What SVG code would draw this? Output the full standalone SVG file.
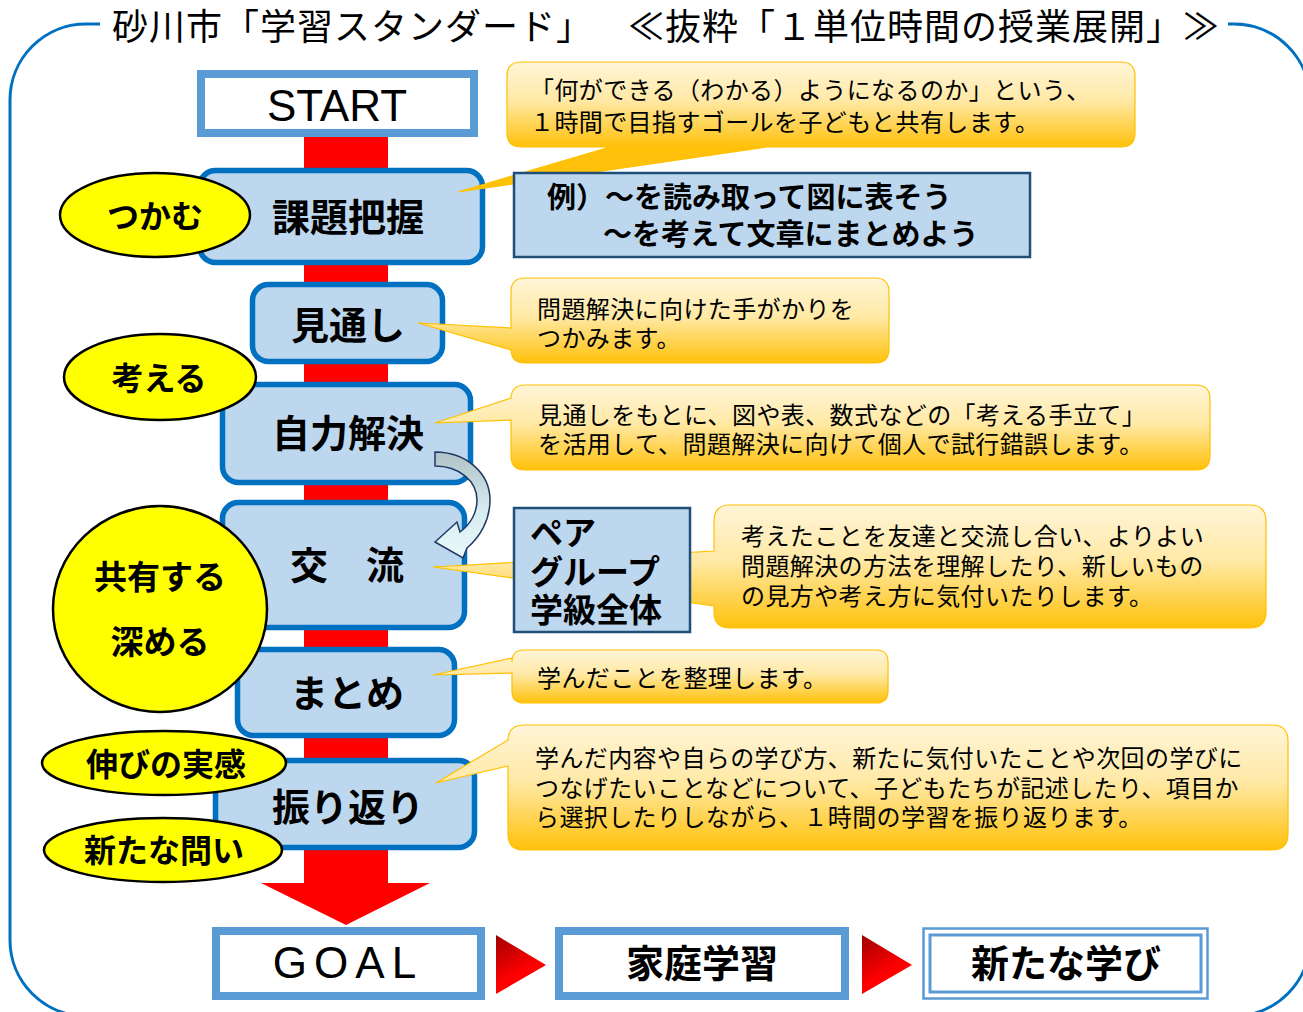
<svg xmlns="http://www.w3.org/2000/svg" width="1303" height="1012" viewBox="0 0 1303 1012">
<style>
text{font-family:"Noto Sans CJK JP","Noto Sans",sans-serif;fill:#000}
.title{font-size:36px;letter-spacing:1px}
.node rect{fill:#BDD7EE;stroke:#0070C0;stroke-width:5.5}
.lbl{font-size:38px;font-weight:700;text-anchor:middle}
.oval{fill:#FFFF00;stroke:#000;stroke-width:2.5}
.ol{font-size:32px;font-weight:700;text-anchor:middle}
.call{stroke:#FFC000;stroke-width:1.2}
.ct{font-size:24px;letter-spacing:0.4px}
.ex{fill:#BDD7EE;stroke:#1F4E79;stroke-width:2.5}
.ext{font-size:29px;font-weight:700}
.term{fill:#FFFFFF;stroke:#5B9BD5;stroke-width:8}
.tt{font-size:38px;font-weight:700;text-anchor:middle}
.lat{font-family:"Liberation Sans",Arial,sans-serif;font-size:44px;text-anchor:middle}
</style>
<defs>
<linearGradient id="cg" x1="0" y1="0" x2="0" y2="1">
<stop offset="0" stop-color="#FFF5D8"/>
<stop offset="0.45" stop-color="#FFE9A6"/>
<stop offset="1" stop-color="#FFC10A"/>
</linearGradient>
<linearGradient id="cg1" gradientUnits="userSpaceOnUse" x1="0" y1="62" x2="0" y2="147">
<stop offset="0" stop-color="#FFF5D8"/>
<stop offset="0.45" stop-color="#FFE9A6"/>
<stop offset="1" stop-color="#FFC10A"/>
</linearGradient>
<linearGradient id="rg" x1="0" y1="0" x2="0.5" y2="1">
<stop offset="0" stop-color="#A00000"/>
<stop offset="0.7" stop-color="#FF0000"/>
</linearGradient>
<linearGradient id="ag" x1="0" y1="0" x2="0" y2="1">
<stop offset="0" stop-color="#AFC2C6"/>
<stop offset="0.55" stop-color="#D6ECF0"/>
<stop offset="1" stop-color="#EAF9FC"/>
</linearGradient>
</defs>

<!-- frame -->
<rect x="10" y="24" width="1300" height="992" rx="76" fill="none" stroke="#0070C0" stroke-width="3"/>
<rect x="100" y="4" width="1128" height="44" fill="#FFFFFF"/>
<text class="title" x="112" y="40">砂川市「学習スタンダード」</text>
<text class="title" x="1220" y="40" text-anchor="end">≪抜粋「１単位時間の授業展開」≫</text>

<!-- connectors -->
<g id="connectors">
<path d="M304,137 H388 V883 H430 L346,925 L261,883 H304 Z" fill="#FF0000"/>
<polygon points="496,935 546,965 496,994" fill="url(#rg)"/>
<polygon points="862,935 912,965 862,994" fill="url(#rg)"/>
</g>

<g id="start"><rect class="term" x="201" y="74" width="273" height="59"/><text class="lat" x="337" y="121">START</text></g>

<g id="kadai" class="node"><rect x="199.5" y="170.5" width="283" height="92" rx="16"/><text class="lbl" x="348" y="231">課題把握</text></g>
<g id="mitoshi" class="node"><rect x="252.5" y="284.5" width="190" height="77" rx="16"/><text class="lbl" x="348" y="339">見通し</text></g>
<g id="jiriki" class="node"><rect x="222.5" y="384.5" width="248" height="98" rx="16"/><text class="lbl" x="348" y="447">自力解決</text></g>
<g id="koryu" class="node"><rect x="222.5" y="502.5" width="242" height="125" rx="16"/><text class="lbl" x="347" y="579">交　流</text></g>
<g id="matome" class="node"><rect x="237.5" y="649.5" width="217" height="86" rx="16"/><text class="lbl" x="347" y="707">まとめ</text></g>
<g id="furikaeri" class="node"><rect x="215.5" y="760.5" width="259" height="87" rx="16"/><text class="lbl" x="348" y="821">振り返り</text></g>

<!-- callouts -->
<g id="call1">
<path class="call" fill="url(#cg1)" d="M521,62 H1121 Q1135,62 1135,76 V133 Q1135,147 1121,147 H767 L458,192 L610,147 H521 Q507,147 507,133 V76 Q507,62 521,62 Z"/>
<text class="ct" x="530" y="99">「何ができる（わかる）ようになるのか」という、</text>
<text class="ct" x="530" y="131">１時間で目指すゴールを子どもと共有します。</text>
</g>
<g id="example"><rect class="ex" x="514" y="173" width="516" height="84"/>
<text class="ext" x="547" y="208">例）～を読み取って図に表そう</text>
<text class="ext" x="603" y="245">～を考えて文章にまとめよう</text></g>

<g id="call2">
<path class="call" fill="url(#cg)" d="M525,278 H875 Q889,278 889,292 V349 Q889,363 875,363 H525 Q511,363 511,349 V350 L418,323 L511,328 V292 Q511,278 525,278 Z"/>
<text class="ct" x="537" y="318">問題解決に向けた手がかりを</text>
<text class="ct" x="537" y="347">つかみます。</text>
</g>
<g id="call3">
<path class="call" fill="url(#cg)" d="M525,385 H1196 Q1210,385 1210,399 V456 Q1210,470 1196,470 H525 Q511,470 511,456 V420 L435,423 L511,398 V399 Q511,385 525,385 Z"/>
<text class="ct" x="538" y="424">見通しをもとに、図や表、数式などの「考える手立て」</text>
<text class="ct" x="538" y="453">を活用して、問題解決に向けて個人で試行錯誤します。</text>
</g>
<g id="call4">
<path class="call" fill="url(#cg)" d="M730,505 H1250 Q1266,505 1266,521 V612 Q1266,628 1250,628 H730 Q714,628 714,612 V606 L433,567 L714,551 V521 Q714,505 730,505 Z"/>
<text class="ct" x="741" y="545">考えたことを友達と交流し合い、よりよい</text>
<text class="ct" x="741" y="575">問題解決の方法を理解したり、新しいもの</text>
<text class="ct" x="741" y="605">の見方や考え方に気付いたりします。</text>
</g>
<g id="pair"><rect class="ex" x="514" y="508" width="176" height="124"/>
<text class="ext" x="530" y="545" style="font-size:33px">ペア</text>
<text class="ext" x="530" y="584" style="font-size:33px">グループ</text>
<text class="ext" x="530" y="622" style="font-size:33px">学級全体</text></g>

<g id="call5">
<path class="call" fill="url(#cg)" d="M524,650 H876 Q888,650 888,662 V691 Q888,703 876,703 H524 Q512,703 512,691 V673 L433,675 L512,658 V662 Q512,650 524,650 Z"/>
<text class="ct" x="537" y="687">学んだことを整理します。</text>
</g>
<g id="call6">
<path class="call" fill="url(#cg)" d="M524,725 H1272 Q1288,725 1288,741 V834 Q1288,850 1272,850 H524 Q508,850 508,834 V766 L436,783 L508,740 V741 Q508,725 524,725 Z"/>
<text class="ct" x="535" y="767">学んだ内容や自らの学び方、新たに気付いたことや次回の学びに</text>
<text class="ct" x="535" y="797">つなげたいことなどについて、子どもたちが記述したり、項目か</text>
<text class="ct" x="535" y="826">ら選択したりしながら、１時間の学習を振り返ります。</text>
</g>

<!-- curved arrow -->
<g id="curved-arrow">
<path d="M435,452 C466,452 490,473 490,500 C490,520 480,537 467,548 L463,558 L435,542 L457,522 L460,532 C471,524 477,512 477,500 C477,481 459,466 435,466 Z" fill="url(#ag)" stroke="#1F3864" stroke-width="1.5"/>
</g>

<!-- ovals -->
<g id="tsukamu"><ellipse class="oval" cx="155" cy="215" rx="95" ry="42"/><text class="ol" x="155" y="228">つかむ</text></g>
<g id="kangaeru"><ellipse class="oval" cx="160" cy="377" rx="96" ry="43"/><text class="ol" x="159" y="390">考える</text></g>
<g id="kyoyu"><ellipse class="oval" cx="160" cy="609" rx="107" ry="103"/><text class="ol" x="160" y="589" style="font-size:33px">共有する</text><text class="ol" x="160" y="654" style="font-size:33px">深める</text></g>
<g id="nobi"><ellipse class="oval" cx="164" cy="763" rx="122" ry="32"/><text class="ol" x="166" y="776">伸びの実感</text></g>
<g id="toi"><ellipse class="oval" cx="163" cy="850" rx="119" ry="32"/><text class="ol" x="164" y="862">新たな問い</text></g>

<!-- bottom -->
<g id="goal"><rect class="term" x="216" y="931" width="265" height="65"/><text class="lat" x="348" y="978" style="letter-spacing:7px">GOAL</text></g>
<g id="katei"><rect class="term" x="559" y="931" width="286" height="65"/><text class="tt" x="702" y="977">家庭学習</text></g>
<g id="aratana"><rect x="923.5" y="928.5" width="284" height="70" fill="#FFFFFF" stroke="#5B9BD5" stroke-width="2.5"/><rect x="930" y="935" width="271" height="57" fill="none" stroke="#5B9BD5" stroke-width="3"/><text class="tt" x="1066" y="977">新たな学び</text></g>
</svg>
